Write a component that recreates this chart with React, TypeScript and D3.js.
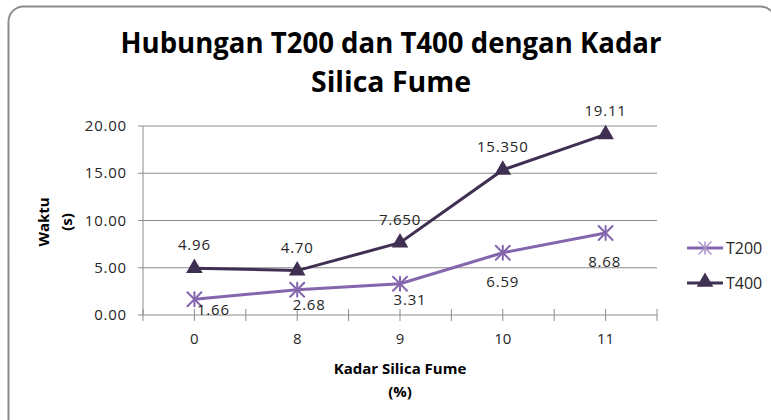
import * as d3 from "d3";

const categories = ["0", "8", "9", "10", "11"];
const t200 = [1.66, 2.68, 3.31, 6.59, 8.68];
const t400 = [4.96, 4.7, 7.65, 15.35, 19.11];
const t200Labels = ["1.66", "2.68", "3.31", "6.59", "8.68"];
const t400Labels = ["4.96", "4.70", "7.650", "15.350", "19.11"];
const yTicks = [0, 5, 10, 15, 20];

// label nudges (Excel labels were moved by hand)
const t200Dx = [19, 12, 10, 0, -1];
const t200Dy = [16, 20, 21, 34, 34];

const W = 771;
const H = 420;
const font = "'Open Sans', sans-serif";
const c200 = "#8466ae";
const c400 = "#3f3052";
const grid = "#8c8c8c";
const ink = "#262626";

const margin = { left: 143, right: 114, top: 126, bottom: 105 };

const x = d3
  .scaleBand<string>()
  .domain(categories)
  .range([margin.left, W - margin.right])
  .padding(0);
const y = d3
  .scaleLinear()
  .domain([0, 20])
  .range([H - margin.bottom, margin.top]);

const cx = (i: number) => (x(categories[i]) as number) + x.bandwidth() / 2;

const line = d3
  .line<number>()
  .x((_, i) => cx(i))
  .y((d) => y(d));

const Star = ({ px, py, r, color, w }: any) => (
  <g stroke={color} strokeWidth={w} strokeLinecap="round">
    <line x1={px - r} y1={py - r} x2={px + r} y2={py + r} />
    <line x1={px - r} y1={py + r} x2={px + r} y2={py - r} />
    <line x1={px} y1={py - r} x2={px} y2={py + r} />
  </g>
);

const tri = d3.symbol(d3.symbolTriangle, 120);

const App = () => {
  const x0 = margin.left;
  const x1 = W - margin.right;
  const y0 = y(0);
  // ticks at every half category
  const halfTicks = d3.range(0, categories.length * 2 + 1).map(
    (k) => x0 + (k * x.bandwidth()) / 2
  );
  return (
    <svg
      width={W}
      height={H}
      style={{ position: "fixed", left: 0, top: 0, background: "#fff" }}
      fontFamily={font}
    >
      <rect
        x={8.5}
        y={6.5}
        width={767}
        height={460}
        rx={15}
        fill="#fff"
        stroke={grid}
        strokeWidth={2}
      />
      <text
        x={391}
        y={53}
        textAnchor="middle"
        fontSize={28}
        fontWeight="bold"
        textLength={541}
        lengthAdjust="spacingAndGlyphs"
      >
        Hubungan T200 dan T400 dengan Kadar
      </text>
      <text
        x={391}
        y={92}
        textAnchor="middle"
        fontSize={28}
        fontWeight="bold"
        textLength={160}
        lengthAdjust="spacingAndGlyphs"
      >
        Silica Fume
      </text>

      {yTicks.map((t) => (
        <g key={t}>
          <line x1={x0 - 5} x2={x1} y1={y(t)} y2={y(t)} stroke={grid} />
          <text
            x={127}
            y={y(t) + 5}
            textAnchor="end"
            fontSize={15}
            letterSpacing={0.8}
            fill={ink}
          >
            {t.toFixed(2)}
          </text>
        </g>
      ))}
      <line x1={x0} x2={x0} y1={y(20)} y2={y0} stroke={grid} />
      {halfTicks.map((tx, k) => (
        <line key={k} x1={tx} x2={tx} y1={y0 - 6} y2={y0 + 6} stroke={grid} />
      ))}
      {categories.map((c, i) => (
        <text key={c} x={cx(i)} y={344} textAnchor="middle" fontSize={15} fill={ink}>
          {c}
        </text>
      ))}

      <text
        transform="translate(49,222) rotate(-90)"
        textAnchor="middle"
        fontSize={15}
        fontWeight="bold"
      >
        Waktu
      </text>
      <text
        transform="translate(72,222) rotate(-90)"
        textAnchor="middle"
        fontSize={15}
        fontWeight="bold"
      >
        (s)
      </text>
      <text x={400} y={374} textAnchor="middle" fontSize={15} fontWeight="bold">
        Kadar Silica Fume
      </text>
      <text x={400} y={397} textAnchor="middle" fontSize={15} fontWeight="bold">
        (%)
      </text>

      <path d={line(t200) as string} fill="none" stroke={c200} strokeWidth={3} />
      {t200.map((v, i) => (
        <Star key={i} px={cx(i)} py={y(v)} r={7} color={c200} w={2} />
      ))}
      <path d={line(t400) as string} fill="none" stroke={c400} strokeWidth={3} />
      {t400.map((v, i) => (
        <path
          key={i}
          d={tri() as string}
          transform={`translate(${cx(i)},${y(v)})`}
          fill={c400}
        />
      ))}

      {t400.map((v, i) => (
        <text
          key={i}
          x={cx(i)}
          y={y(v) - 18}
          textAnchor="middle"
          fontSize={15}
          letterSpacing={0.8}
          fill={ink}
        >
          {t400Labels[i]}
        </text>
      ))}
      {t200.map((v, i) => (
        <text
          key={i}
          x={cx(i) + t200Dx[i]}
          y={y(v) + t200Dy[i]}
          textAnchor="middle"
          fontSize={15}
          letterSpacing={0.8}
          fill={ink}
        >
          {t200Labels[i]}
        </text>
      ))}

      <line x1={687} x2={723} y1={248} y2={248} stroke={c200} strokeWidth={3} />
      <Star px={705} py={248} r={6} color="#a892c8" w={1.5} />
      <text x={726} y={254} fontSize={16} fill={ink}>
        T200
      </text>
      <line x1={687} x2={723} y1={283} y2={283} stroke={c400} strokeWidth={3} />
      <path d={tri() as string} transform="translate(705,282)" fill={c400} />
      <text x={726} y={289} fontSize={16} fill={ink}>
        T400
      </text>
    </svg>
  );
};

export default App;
